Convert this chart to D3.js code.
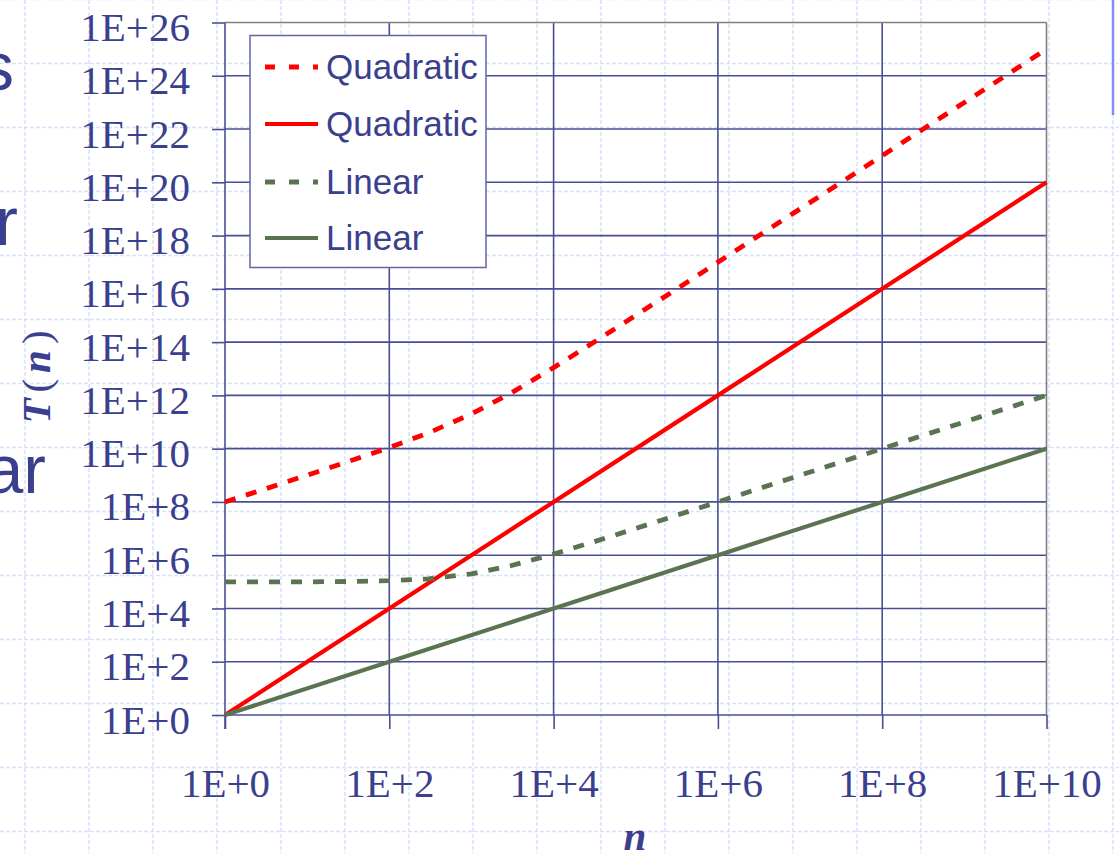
<!DOCTYPE html>
<html>
<head>
<meta charset="utf-8">
<script src="https://cdn.jsdelivr.net/npm/d3@7"></script>
<style>
  html, body { margin: 0; padding: 0; background: #ffffff; overflow: hidden; }
  svg { display: block; }
</style>
</head>
<body>
<svg id="chart" width="1119" height="853"></svg>
<script>
// ---- data ----
const nValues = [1, 3, 10, 30, 100, 300, 1e3, 3e3, 1e4, 3e4, 1e5, 3e5, 1e6, 1e7, 1e8, 1e9, 1e10];
const quadraticDotted = [1e8, 3e8, 1.01e9, 3.1e9, 1.1e10, 3.9e10, 2e11, 1.2e12, 1.1e13, 9.3e13, 1.01e15, 9e15, 1e17, 1e19, 1e21, 1e23, 1e25];
const linearDotted = [1e5, 1e5, 1.0e5, 1.03e5, 1.1e5, 1.3e5, 2e5, 4e5, 1.1e6, 3.1e6, 1.01e7, 3e7, 1e8, 1e9, 1e10, 1e11, 1e12];
const nSolid = [1, 1e2, 1e4, 1e6, 1e8, 1e10];
const quadraticSolid = [1, 1e4, 1e8, 1e12, 1e16, 1e20];
const linearSolid = [1, 1e2, 1e4, 1e6, 1e8, 1e10];

const xTicks = [1, 1e2, 1e4, 1e6, 1e8, 1e10];
const xTickLabels = ["1E+0", "1E+2", "1E+4", "1E+6", "1E+8", "1E+10"];
const yTicks = [1, 1e2, 1e4, 1e6, 1e8, 1e10, 1e12, 1e14, 1e16, 1e18, 1e20, 1e22, 1e24, 1e26];
const yTickLabels = ["1E+0", "1E+2", "1E+4", "1E+6", "1E+8", "1E+10", "1E+12", "1E+14", "1E+16", "1E+18", "1E+20", "1E+22", "1E+24", "1E+26"];
const legendLabels = ["Quadratic", "Quadratic", "Linear", "Linear"];

// ---- styles ----
const W = 1119, H = 853;
const NAVY = "#3b408e";
const GRID = "#4a4f94";
const RED = "#ff0000";
const GREEN = "#5a7452";
const DASH = "11,11";

const svg = d3.select("#chart");

// slide background dashed grid
const bg = svg.append("g");
for (let gx = 25; gx < W; gx += 64) {
  bg.append("line").attr("x1", gx).attr("x2", gx).attr("y1", 0).attr("y2", H)
    .attr("stroke", "#d8e1fa").attr("stroke-width", 1.5).attr("stroke-dasharray", "4,2");
}
for (let gy = -0.5; gy < H; gy += 64) {
  bg.append("line").attr("x1", 0).attr("x2", W).attr("y1", gy).attr("y2", gy)
    .attr("stroke", "#d8e1fa").attr("stroke-width", 1.5).attr("stroke-dasharray", "4,2");
}

// slide text fragments (cut off at the left edge, as in the reference)
const slideText = [["s", 14, 90], ["r", 18, 245], ["ar", 46, 493]];
svg.append("g").selectAll("text").data(slideText).join("text")
  .attr("x", d => d[1]).attr("y", d => d[2])
  .attr("text-anchor", "end")
  .attr("font-family", "Liberation Sans, Arial, sans-serif")
  .attr("font-size", 68).attr("fill", NAVY).text(d => d[0]);

// blue bar at top right
svg.append("line").attr("x1", 1113).attr("x2", 1113).attr("y1", 0).attr("y2", 115)
  .attr("stroke", "#7d8ff0").attr("stroke-width", 2.5);

// ---- scales ----
const pLeft = 225, pRight = 1046.5, pTop = 22.5, pBottom = 715;
const x = d3.scaleLog().domain([1, 1e10]).range([pLeft, pRight]);
const y = d3.scaleLog().domain([1, 1e26]).range([pBottom, pTop]);

// gridlines
const g = svg.append("g");
g.selectAll(".hg").data(yTicks.slice(1, -1)).join("line")
  .attr("x1", pLeft).attr("x2", pRight).attr("y1", d => y(d)).attr("y2", d => y(d))
  .attr("stroke", GRID).attr("stroke-width", 1.6);
g.selectAll(".vg").data(xTicks.slice(1, -1)).join("line")
  .attr("y1", pTop).attr("y2", pBottom).attr("x1", d => x(d)).attr("x2", d => x(d))
  .attr("stroke", GRID).attr("stroke-width", 1.6);

// plot border top / right
g.append("line").attr("x1", pLeft).attr("x2", pRight).attr("y1", pTop).attr("y2", pTop)
  .attr("stroke", "#808080").attr("stroke-width", 1.6);
g.append("line").attr("x1", pRight).attr("x2", pRight).attr("y1", pTop).attr("y2", pBottom)
  .attr("stroke", "#808080").attr("stroke-width", 1.6);

// axes
const yAxis = d3.axisLeft(y).tickValues(yTicks).tickSize(13).tickFormat((d, i) => yTickLabels[i]);
const yA = svg.append("g").attr("transform", `translate(${pLeft},0)`).call(yAxis);
yA.select(".domain").remove();
yA.append("line").attr("x1", 0).attr("x2", 0).attr("y1", pTop).attr("y2", pBottom + 14)
  .attr("stroke", GRID).attr("stroke-width", 1.6);
yA.selectAll(".tick line").attr("stroke", GRID).attr("stroke-width", 1.6);
yA.selectAll(".tick text")
  .attr("x", -35).attr("dy", null).attr("y", 18)
  .attr("font-family", "Liberation Serif, Times New Roman, serif")
  .attr("font-size", 41).attr("fill", NAVY);

const xAxis = d3.axisBottom(x).tickValues(xTicks).tickSize(14).tickFormat((d, i) => xTickLabels[i]);
const xA = svg.append("g").attr("transform", `translate(0,${pBottom})`).call(xAxis);
xA.select(".domain").remove();
xA.append("line").attr("x1", pLeft).attr("x2", pRight).attr("y1", 0).attr("y2", 0)
  .attr("stroke", GRID).attr("stroke-width", 1.6);
xA.selectAll(".tick line").attr("stroke", GRID).attr("stroke-width", 1.6);
xA.selectAll(".tick text")
  .attr("y", 82).attr("dy", null)
  .attr("font-family", "Liberation Serif, Times New Roman, serif")
  .attr("font-size", 41).attr("fill", NAVY);

// ---- series ----
const line = d3.line().x(d => x(d[0])).y(d => y(d[1]));
const series = [
  { n: nValues, v: quadraticDotted, color: RED, dash: DASH },
  { n: nSolid, v: quadraticSolid, color: RED, dash: null },
  { n: nValues, v: linearDotted, color: GREEN, dash: DASH },
  { n: nSolid, v: linearSolid, color: GREEN, dash: null }
];
const sg = svg.append("g");
series.forEach(s => {
  const pts = s.n.map((n, i) => [n, s.v[i]]);
  sg.append("path").attr("d", line(pts))
    .attr("fill", "none").attr("stroke", s.color).attr("stroke-width", s.dash ? 4.8 : 4.2)
    .attr("stroke-dasharray", s.dash).attr("stroke-linejoin", "round");
});

// ---- legend ----
const lg = svg.append("g");
lg.append("rect").attr("x", 250).attr("y", 35.5).attr("width", 236).attr("height", 232)
  .attr("fill", "#ffffff").attr("stroke", "#6066a0").attr("stroke-width", 1.5);
const rowY = [67, 124, 182, 238];
series.forEach((s, i) => {
  lg.append("line").attr("x1", 265).attr("x2", 318).attr("y1", rowY[i]).attr("y2", rowY[i])
    .attr("stroke", s.color).attr("stroke-width", s.dash ? 4.8 : 4.2)
    .attr("stroke-dasharray", s.dash ? "10,14" : null);
  lg.append("text").attr("x", 326).attr("y", rowY[i] + 12)
    .attr("font-family", "Liberation Sans, Arial, sans-serif")
    .attr("font-size", 35).attr("fill", NAVY).text(legendLabels[i]);
});

// ---- axis titles ----
const yt = svg.append("text")
  .attr("transform", "translate(50,374) rotate(-90)")
  .attr("text-anchor", "middle")
  .attr("font-family", "Liberation Serif, Times New Roman, serif")
  .attr("font-size", 41).attr("font-weight", "bold").attr("font-style", "italic")
  .attr("letter-spacing", 6).attr("fill", NAVY);
yt.append("tspan").text("T");
yt.append("tspan").attr("font-style", "normal").attr("font-weight", "normal").text("(");
yt.append("tspan").text("n");
yt.append("tspan").attr("font-style", "normal").attr("font-weight", "normal").text(")");

svg.append("text").attr("x", 635).attr("y", 850).attr("text-anchor", "middle")
  .attr("font-family", "Liberation Serif, Times New Roman, serif")
  .attr("font-size", 41).attr("font-weight", "bold").attr("font-style", "italic")
  .attr("fill", NAVY).text("n");
</script>
</body>
</html>
